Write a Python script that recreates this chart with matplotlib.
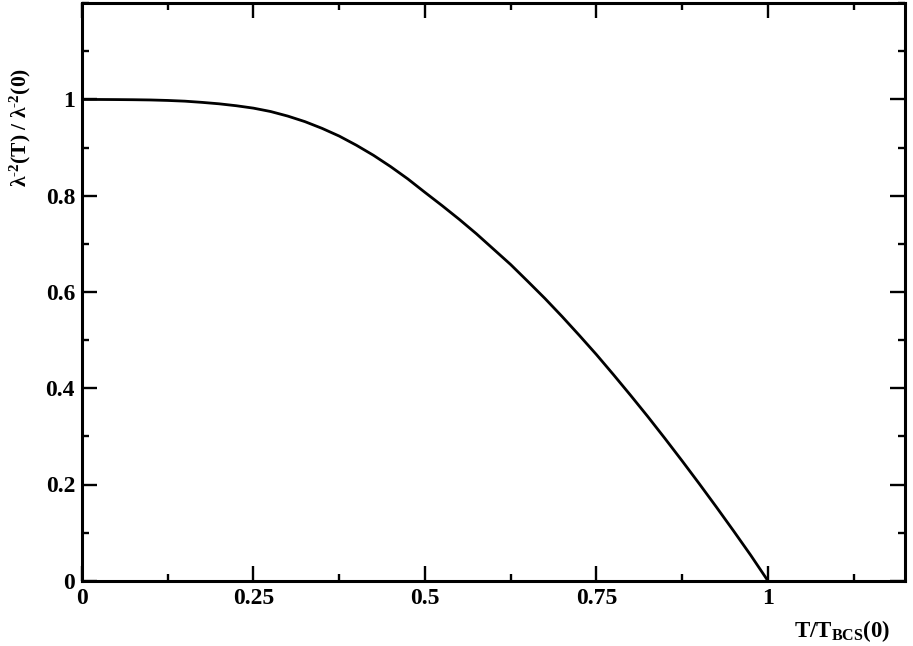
import matplotlib
matplotlib.use("Agg")
import matplotlib.pyplot as plt
from matplotlib.ticker import MultipleLocator, FixedLocator

# ── data ──────────────────────────────────────────────────────────────────────
t_reduced = [0.000, 0.025, 0.050, 0.075, 0.100, 0.125, 0.150, 0.175, 0.200,
             0.225, 0.250, 0.275, 0.300, 0.325, 0.350, 0.375, 0.400, 0.425,
             0.450, 0.475, 0.500, 0.525, 0.550, 0.575, 0.600, 0.625, 0.650,
             0.675, 0.700, 0.725, 0.750, 0.775, 0.800, 0.825, 0.850, 0.875,
             0.900, 0.925, 0.950, 0.975, 1.000]
rho_s = [1.000, 1.000, 0.9998, 0.9995, 0.999, 0.998, 0.9965, 0.994, 0.991,
         0.987, 0.982, 0.975, 0.9655, 0.954, 0.940, 0.924, 0.905, 0.884,
         0.8605, 0.835, 0.807, 0.7795, 0.751, 0.721, 0.689, 0.657, 0.622,
         0.5865, 0.549, 0.510, 0.470, 0.428, 0.385, 0.341, 0.2955, 0.249,
         0.2015, 0.153, 0.1035, 0.053, 0.000]

x_ticks = [0, 0.25, 0.5, 0.75, 1.0]
x_tick_labels = ["0", "0.25", "0.5", "0.75", "1"]
y_ticks = [0, 0.2, 0.4, 0.6, 0.8, 1.0]
y_tick_labels = ["0", "0.2", "0.4", "0.6", "0.8", "1"]

# ── style ─────────────────────────────────────────────────────────────────────
plt.rcParams["font.family"] = ["Liberation Serif", "DejaVu Serif"]
plt.rcParams["font.weight"] = "bold"
plt.rcParams["mathtext.fontset"] = "custom"
plt.rcParams["mathtext.rm"] = "Liberation Serif:bold"
plt.rcParams["mathtext.bf"] = "Liberation Serif:bold"
plt.rcParams["mathtext.default"] = "bf"

fig = plt.figure(figsize=(9.13, 6.46), dpi=100)
ax = fig.add_axes([0.0898, 0.101, 0.9015, 0.894])

ax.plot(t_reduced, rho_s, color="black", linewidth=2.0, solid_joinstyle="round")

ax.set_xlim(0, 1.2)
ax.set_ylim(0, 1.2)
ax.xaxis.set_major_locator(FixedLocator(x_ticks))
ax.yaxis.set_major_locator(FixedLocator(y_ticks))
ax.set_xticklabels(x_tick_labels, fontsize=17, fontweight="bold")
ax.set_yticklabels(y_tick_labels, fontsize=17, fontweight="bold")
ax.xaxis.set_minor_locator(MultipleLocator(0.125))
ax.yaxis.set_minor_locator(MultipleLocator(0.1))

ax.tick_params(which="both", direction="in", top=True, right=True, width=1.7)
ax.tick_params(which="major", length=10.5, pad=5)
ax.tick_params(which="minor", length=5)
for spine in ax.spines.values():
    spine.set_linewidth(2.2)

fig.text(842 / 913, 1 - 631 / 646, r"T/T$_{\mathbf{BCS}}$(0)", fontsize=16.5,
         fontweight="bold", ha="center", va="center")
fig.text(20 / 913, 1 - 127 / 646, r"λ$^{\text{-}2}$(T) / λ$^{\text{-}2}$(0)",
         fontsize=15.5, fontweight="bold", ha="center", va="center", rotation=90)

fig.savefig("out.png", dpi=100)
